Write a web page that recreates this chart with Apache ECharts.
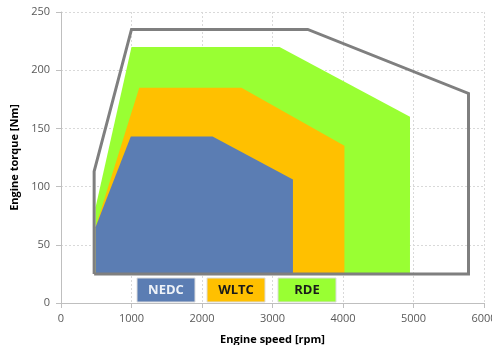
<!DOCTYPE html>
<html>
<head>
<meta charset="utf-8">
<script src="https://cdn.jsdelivr.net/npm/echarts@6/dist/echarts.min.js"></script>
<style>
  html, body { margin: 0; padding: 0; background: #fff; }
  #chart { width: 492px; height: 345px; }
</style>
</head>
<body>
<div id="chart"></div>
<script>
// Operating ranges in the engine map: [speed rpm, torque Nm] vertices
const envelopePoints = [[470, 25], [470, 113], [1000, 235], [3500, 235], [5780, 180], [5780, 25], [470, 25]];
const rdePoints  = [[490, 25], [490, 82], [1000, 220], [3100, 220], [4950, 160], [4950, 25]];
const wltcPoints = [[490, 25], [490, 65], [1110, 185], [2560, 185], [4020, 135], [4020, 25]];
const nedcPoints = [[490, 25], [490, 65], [990, 143], [2150, 143], [3290, 106], [3290, 25]];

const cycleNames = ['NEDC', 'WLTC', 'RDE'];
const cycleColors = ['#5b7db3', '#ffc000', '#99ff33'];
const cycleTextColors = ['#eef2f8', '#1a1a1a', '#1a1a1a'];

const xTicks = { min: 0, max: 6000, step: 1000 };
const yTicks = { min: 0, max: 250, step: 50 };

const FONT = '"Open Sans", "Noto Sans", sans-serif';

function regionSeries(name, pts, color) {
  return {
    name: name,
    type: 'custom',
    data: pts,
    encode: { x: 0, y: 1 },
    renderItem: function (params, api) {
      if (params.dataIndex !== 0) return null;
      const shape = pts.map(function (p) { return api.coord(p); });
      return {
        type: 'polygon',
        shape: { points: shape },
        style: { fill: color, stroke: null }
      };
    },
    silent: true
  };
}

const chart = echarts.init(document.getElementById('chart'), null, { renderer: 'canvas' });

// Boxed cycle labels along the lower edge of the plot
const legendBoxes = [];
const boxX = [137, 207, 278];
cycleNames.forEach(function (n, i) {
  legendBoxes.push({
    type: 'rect',
    shape: { x: boxX[i], y: 278, width: 58, height: 24 },
    style: { fill: cycleColors[i], stroke: '#dcdcdc', lineWidth: 1 },
    z: 100
  });
  legendBoxes.push({
    type: 'text',
    x: boxX[i] + 29,
    y: 290,
    style: {
      text: n,
      fill: cycleTextColors[i],
      font: 'bold 13px ' + FONT,
      align: 'center',
      verticalAlign: 'middle'
    },
    z: 101
  });
});

const axisGray = '#bfbfbf';
const plain = function (v) { return String(v); };

chart.setOption({
  animation: false,
  backgroundColor: '#ffffff',
  grid: { left: 61, right: 8, top: 12, bottom: 42, containLabel: false, outerBoundsMode: 'none' },
  xAxis: {
    type: 'value',
    min: xTicks.min, max: xTicks.max, interval: xTicks.step,
    name: 'Engine speed [rpm]',
    nameLocation: 'middle',
    nameGap: 31,
    nameTextStyle: { fontFamily: FONT, fontWeight: 'bold', fontSize: 11, color: '#000' },
    axisLine: { show: true, lineStyle: { color: axisGray, width: 1 } },
    axisTick: { show: true, length: 5, inside: false, lineStyle: { color: axisGray } },
    axisLabel: { margin: 10, fontFamily: FONT, fontSize: 11, color: '#595959', formatter: plain },
    splitLine: { show: true, lineStyle: { color: '#d9d9d9', type: [2, 2], width: 1 } }
  },
  yAxis: {
    type: 'value',
    min: yTicks.min, max: yTicks.max, interval: yTicks.step,
    name: 'Engine torque [Nm]',
    nameLocation: 'middle',
    nameGap: 33,
    nameRotate: 90,
    nameTextStyle: { fontFamily: FONT, fontWeight: 'bold', fontSize: 11, color: '#000' },
    axisLine: { show: true, lineStyle: { color: axisGray, width: 1 } },
    axisTick: { show: true, length: 5, inside: false, lineStyle: { color: axisGray } },
    axisLabel: { margin: 11, fontFamily: FONT, fontSize: 11, color: '#595959', formatter: plain },
    splitLine: { show: true, lineStyle: { color: '#d9d9d9', type: [2, 2], width: 1 } }
  },
  series: [
    regionSeries('RDE', rdePoints, cycleColors[2]),
    regionSeries('WLTC', wltcPoints, cycleColors[1]),
    regionSeries('NEDC', nedcPoints, cycleColors[0]),
    {
      name: 'Full load',
      type: 'line',
      data: envelopePoints,
      symbol: 'none',
      silent: true,
      lineStyle: { color: '#7f7f7f', width: 3, join: 'miter' },
      z: 5
    }
  ],
  graphic: legendBoxes
});
</script>
</body>
</html>
